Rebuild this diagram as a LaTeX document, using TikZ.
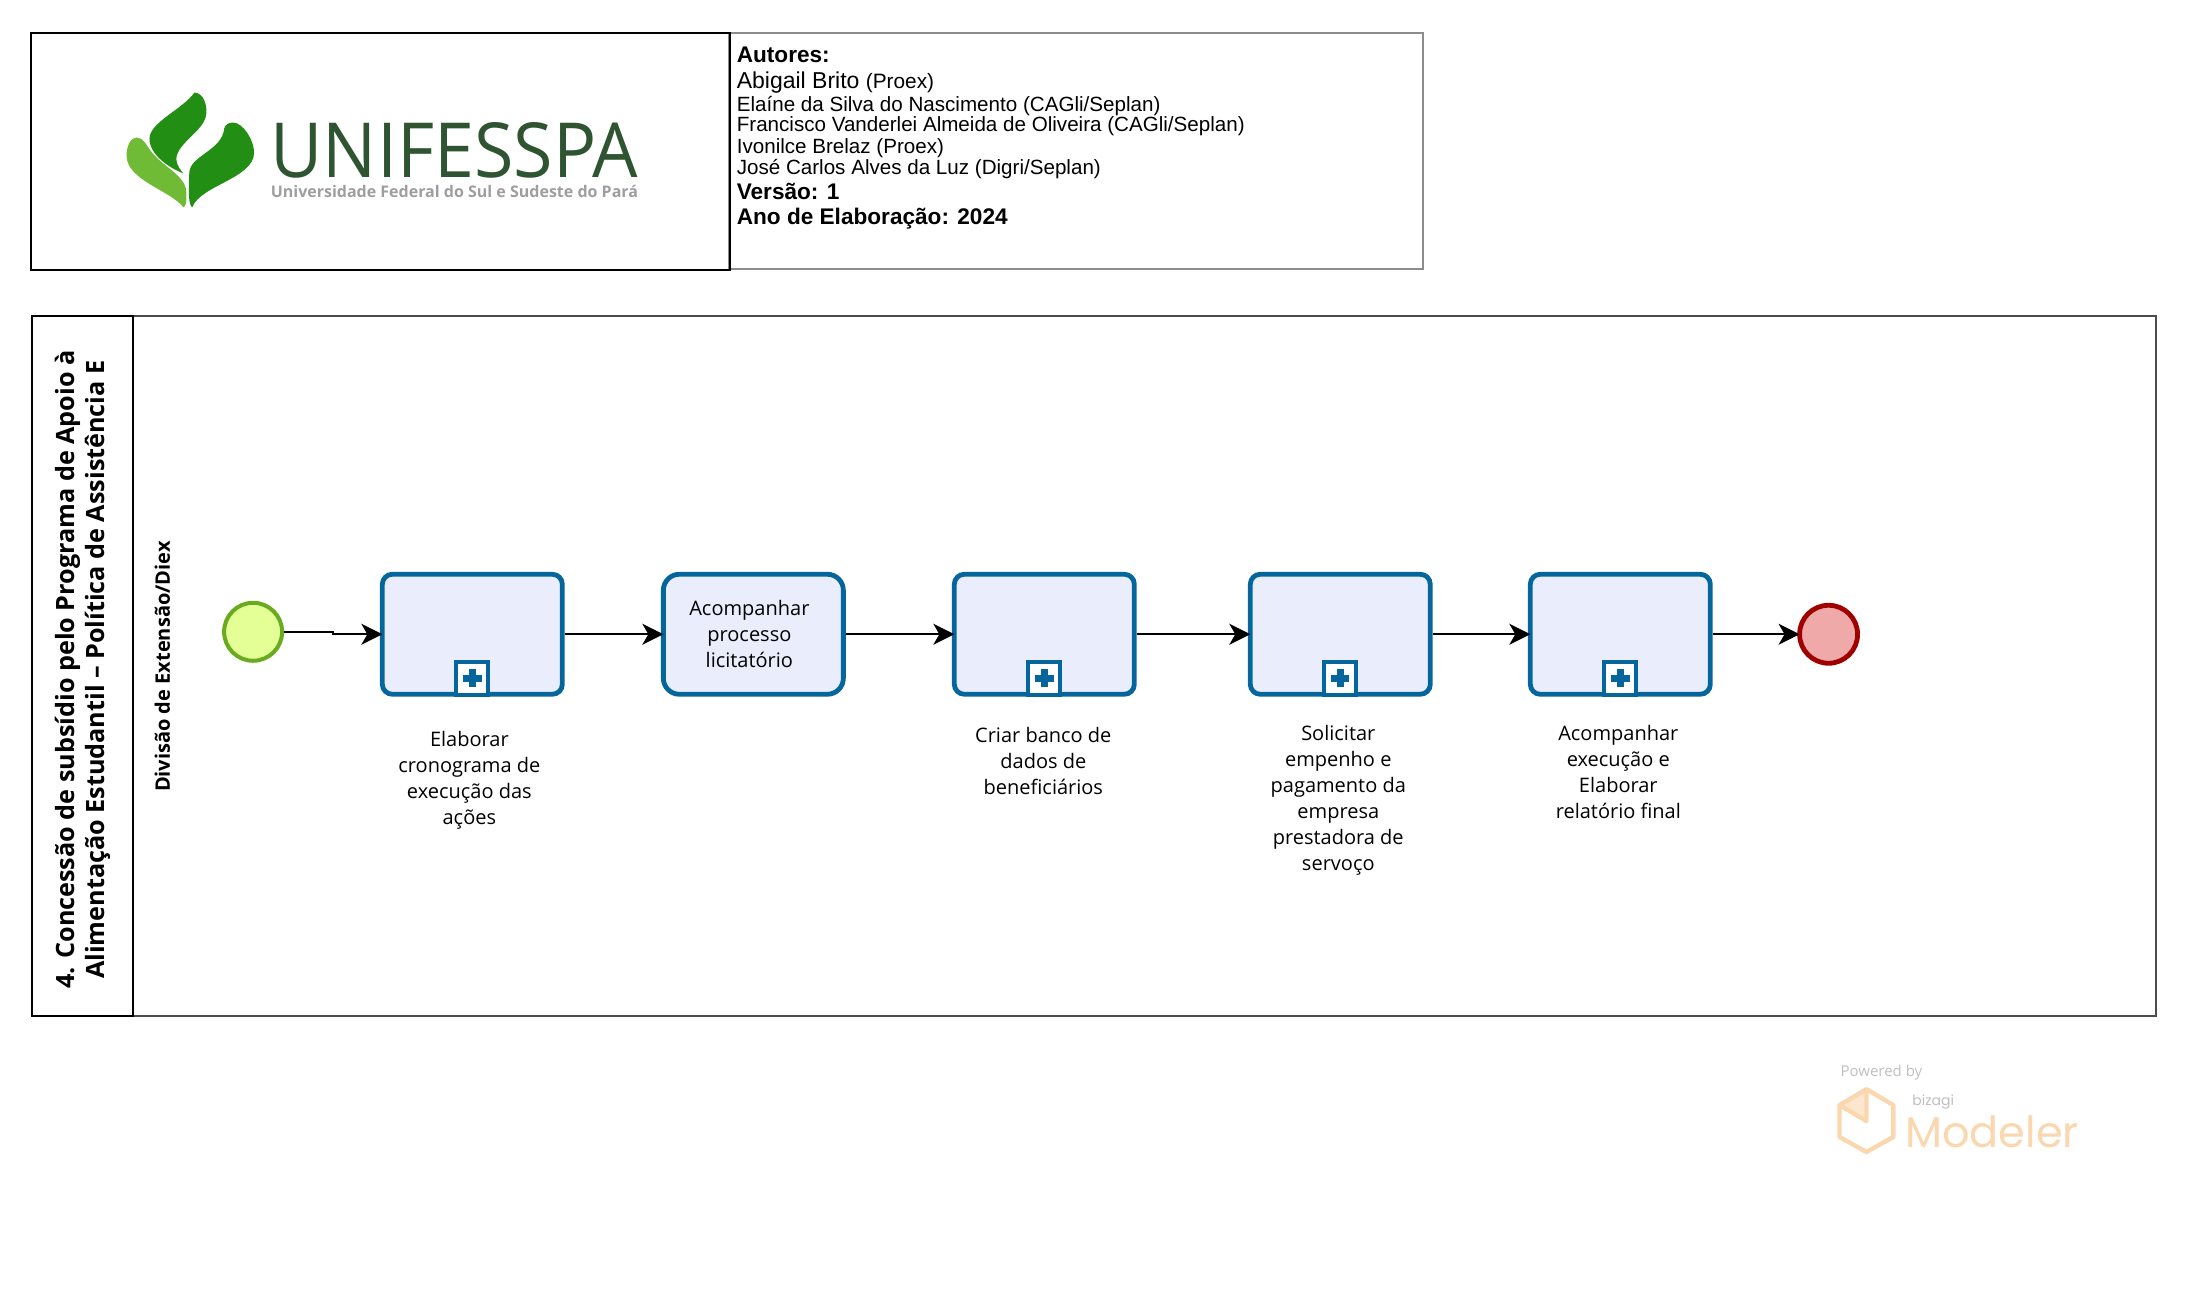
\documentclass[tikz,border=0pt]{standalone}
\usepackage{graphicx}
\usepackage{fontspec}
\setmainfont{Open Sans}
\newfontfamily\authorfont{Liberation Sans}
\newfontfamily\modelerfont{Poppins}
\usetikzlibrary{arrows.meta,positioning}
\definecolor{taskblue}{HTML}{04669C}
\definecolor{taskfill}{HTML}{EAEEFC}
\definecolor{leafdark}{HTML}{238E14}
\definecolor{leaflight}{HTML}{6FBB36}
\definecolor{brandgreen}{HTML}{2F5432}
\definecolor{wmorange}{HTML}{FAD7AE}
\definecolor{startfill}{HTML}{E4FF96}
\definecolor{startline}{HTML}{6AAA1E}
\definecolor{endfill}{HTML}{EFA9A9}
\definecolor{endline}{HTML}{A00000}
\tikzset{
  flow/.style={draw=black,line width=1pt,shorten >=-1.2pt,-{Stealth[length=10.5pt,width=10.5pt,inset=3pt]}},
  taskbox/.style={draw=taskblue,fill=taskfill,line width=2.4pt,rounded corners=5pt,minimum width=90pt,minimum height=60pt,inner sep=0pt,align=center},
  markbox/.style={draw=taskblue,fill=white,line width=2pt,minimum width=16pt,minimum height=16.5pt,inner sep=0pt},
  tasklabel/.style={align=center,inner sep=0pt,font=\fontsize{10}{13}\selectfont},
  authorline/.style={anchor=west,inner sep=0pt,font=\authorfont\fontsize{10.3}{11}\selectfont},
  authorhead/.style={authorline,font=\authorfont\bfseries\fontsize{11.3}{12}\selectfont},
}
\begin{document}
\begin{tikzpicture}[x=0.49825pt,y=-0.49825pt]
\useasboundingbox (-1,-1) rectangle (2194.7,1311.6);
% header boxes
\node[draw=black!45,line width=1pt,minimum width=346.8pt,minimum height=118.1pt,inner sep=0pt] (authorsbox) at (1079,150.5) {};
\node[draw=black,line width=1pt,minimum width=349.3pt,minimum height=118.6pt,inner sep=0pt] (logobox) at (381,151) {};
% logo
\fill[leafdark] (194,92) .. controls (203,92) and (207,104) .. (206,113) .. controls (205,130) and (177,142) .. (176,158) .. controls (176,166) and (181,170) .. (183,173) .. controls (170,168) and (149,155) .. (149,138) .. controls (149,122) and (183,108) .. (194,92) -- cycle;
\fill[leaflight] (136,137) .. controls (143,137) and (146,145) .. (150,150) .. controls (160,165) and (186,175) .. (186,192) -- (186,200) .. controls (186,204) and (184,207) .. (183,207) .. controls (170,190) and (126,180) .. (126,155) .. controls (126,146) and (130,137) .. (136,137) -- cycle;
\fill[leafdark] (233,122) .. controls (243,122) and (254,140) .. (254,152) .. controls (254,178) and (200,185) .. (192,207) .. controls (188,205) and (188,190) .. (189,172) .. controls (190,155) and (222,150) .. (224,128) .. controls (225,124) and (228,122) .. (233,122) -- cycle;
\node[inner sep=0pt,text=brandgreen,font=\fontsize{38}{38}\selectfont] (brandname) at (455,150) {\scalebox{0.945}[1]{UNIFESSPA}};
\node[inner sep=0pt,text=black!38,font=\bfseries\fontsize{8}{9}\selectfont,below=3pt of brandname] (brandsub) {Universidade Federal do Sul e Sudeste do Pará};
% authors
\node[authorhead] (autores) at (738,54) {Autores:};
\node[authorline] (autor1) at (738,82) {\fontsize{11.5}{12}\selectfont Abigail Brito {\fontsize{10.4}{11}\selectfont(Proex)}};
\node[authorline] (autor2) at (738,105) {Elaíne da Silva do Nascimento (CAGli/Seplan)};
\node[authorline] (autor3) at (738,126) {Francisco Vanderlei Almeida de Oliveira (CAGli/Seplan)};
\node[authorline] (autor4) at (738,148) {Ivonilce Brelaz (Proex)};
\node[authorline] (autor5) at (738,169) {José Carlos Alves da Luz (Digri/Seplan)};
\node[authorhead] (versao) at (738,191) {Versão: 1};
\node[authorhead] (ano) at (738,218) {Ano de Elaboração: 2024};
% pool
\node[draw=black!70,line width=1pt,minimum width=1062.3pt,minimum height=349.8pt,inner sep=0pt] (pool) at (1097,667.5) {};
\node[draw=black,line width=1pt,minimum width=50.3pt,minimum height=349.8pt,inner sep=0pt] (poolhead) at (81.5,667.5) {};
\node[rotate=90,align=center,inner sep=0pt,font=\bfseries\fontsize{12.6}{14.8}\selectfont] (pooltitle) at (82,671) {4. Concessão de subsídio pelo Programa de Apoio à\\Alimentação Estudantil -- Política de Assistência E};
\node[rotate=90,inner sep=0pt,font=\bfseries\fontsize{10}{11}\selectfont] (lanetitle) at (162,668) {Divisão de Extensão/Diex};
% events
\node[circle,draw=startline,fill=startfill,line width=2pt,minimum size=29pt,inner sep=0pt] (inicio) at (253,633) {};
\node[circle,draw=endline,fill=endfill,line width=2.4pt,minimum size=29pt,inner sep=0pt] (fim) at (1834,635.5) {};
% tasks
\node[taskbox] (tarefa1) at (473,635.5) {};
\node[taskbox,rounded corners=8pt] (tarefa2) at (755,635.5) {};
\node[taskbox] (tarefa3) at (1047,635.5) {};
\node[taskbox] (tarefa4) at (1344,635.5) {};
\node[taskbox] (tarefa5) at (1625,635.5) {};
\foreach \t in {1,3,4,5} {
  \node[markbox,anchor=south] (plus\t) at (tarefa\t.south) {};
  \draw[taskblue,line width=3.4pt] ([xshift=-4.6pt]plus\t.center) -- ([xshift=4.6pt]plus\t.center);
  \draw[taskblue,line width=3.4pt] ([yshift=-4.6pt]plus\t.center) -- ([yshift=4.6pt]plus\t.center);
}
% labels
\node[tasklabel] (rotulo1) at (470,782) {Elaborar\\cronograma de\\execução das\\ações};
\node[tasklabel] (rotulo2) at (751,635) {Acompanhar\\processo\\licitatório};
\node[tasklabel] (rotulo3) at (1046,763) {Criar banco de\\dados de\\beneficiários};
\node[tasklabel] (rotulo4) at (1342,802) {Solicitar\\empenho e\\pagamento da\\empresa\\prestadora de\\servoço};
\node[tasklabel] (rotulo5) at (1623,774) {Acompanhar\\execução e\\Elaborar\\relatório final};
% flows
\coordinate (dobra1) at (333,633);
\coordinate (dobra2) at (333,635.5);
\draw[flow] (inicio) -- (dobra1) -- (dobra2) -- (tarefa1);
\foreach \a/\b in {tarefa1/tarefa2,tarefa2/tarefa3,tarefa3/tarefa4,tarefa4/tarefa5,tarefa5/fim}
  \draw[flow] (\a) -- (\b);
% watermark
\node[inner sep=0pt,text=black!25,font=\fontsize{7.5}{8}\selectfont] (powered) at (1887,1075) {Powered by};
\fill[wmorange!60] (1872,1092) -- (1872,1124) -- (1845,1108) -- cycle;
\draw[wmorange,line width=2.2pt,line join=round] (1872,1092) -- (1899,1108) -- (1899,1140) -- (1872,1155) -- (1845,1140) -- (1845,1108) -- cycle (1872,1092) -- (1872,1124) -- (1845,1108);
\node[inner sep=0pt,text=black!25,font=\modelerfont\fontsize{7}{8}\selectfont] (bizagi) at (1939,1105) {bizagi};
\node[inner sep=0pt,text=wmorange,font=\modelerfont\fontsize{21.5}{22}\selectfont] (modeler) at (1998,1135) {Modeler};
\end{tikzpicture}
\end{document}
